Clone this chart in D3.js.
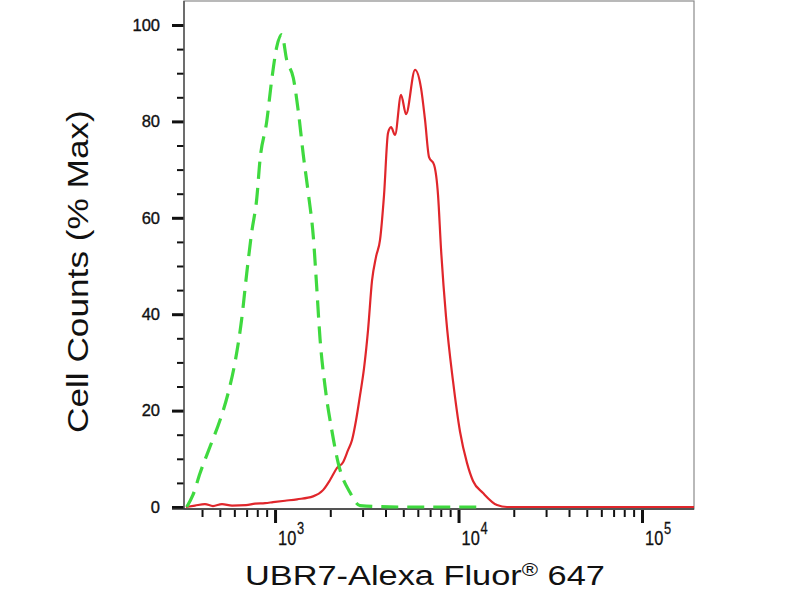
<!DOCTYPE html>
<html>
<head>
<meta charset="utf-8">
<script src="https://cdn.jsdelivr.net/npm/d3@7"></script>
<style>
  html, body { margin: 0; padding: 0; background: #fff; }
  svg { display: block; font-family: "Liberation Sans", Arial, sans-serif; }
</style>
</head>
<body>
<svg id="chart" width="800" height="600"></svg>
<script>
// ---- Data ----
// Isotype control (green dashed): fluorescence intensity and % of max
const controlX = [330, 357, 390, 442, 501, 554, 605, 658, 701, 746, 795, 828, 901, 959, 1021, 1088, 1158, 1258, 1340, 1426, 1519, 1617, 1687, 1758, 1873, 2037, 2213, 2563, 2905, 4800, 13100];
const controlY = [0, 2.5, 7, 12.5, 18, 23.5, 30, 39, 48.5, 57, 64, 72, 80, 88.6, 95.4, 98, 92.7, 89, 82, 73, 65, 56, 45.6, 35, 25, 16, 9, 3, 0.3, 0, 0];
// UBR7 stained sample (red solid)
const sampleX = [327, 366, 415, 459, 514, 583, 695, 778, 882, 975, 1134, 1318, 1611, 1826, 1994, 2177, 2348, 2499, 2628, 2764, 2906, 3055, 3212, 3378, 3551, 3734, 3926, 4128, 4288, 4508, 4861, 5175, 5794, 6247, 6568, 6906, 7354, 7732, 8028, 8550, 9333, 10190, 11127, 11995, 13601, 16211, 18377, 192000];
const sampleY = [0, 0.3, 0.6, 0.2, 0.6, 0.3, 0.4, 0.7, 0.8, 1.0, 1.3, 1.6, 2.2, 3.5, 5.6, 8.1, 9.3, 11.8, 13.9, 18.0, 23.2, 28.8, 36.7, 47.0, 51.9, 55.4, 64.7, 77.6, 78.8, 77.2, 85.5, 81.5, 90.7, 86.9, 80.3, 72.6, 71.0, 64.7, 53.5, 39.4, 26.1, 15.6, 9.1, 5.4, 2.9, 0.4, 0, 0];

const xDomain = [319, 192000];
const yDomain = [0, 100];
const xMajorTicks = [1e3, 1e4, 1e5];
const xMinorTicks = [400, 500, 600, 700, 800, 900, 2000, 3000, 4000, 5000, 6000, 7000, 8000, 9000, 20000, 30000, 40000, 50000, 60000, 70000, 80000, 90000];
const xTickExponents = ["3", "4", "5"];
const yMajorTicks = [0, 20, 40, 60, 80, 100];
const yMinorTicks = [5, 10, 15, 25, 30, 35, 45, 50, 55, 65, 70, 75, 85, 90, 95];
const xLabel = "UBR7-Alexa Fluor";
const xLabelSup = "®";
const xLabelTail = " 647";
const yLabel = "Cell Counts (% Max)";

// ---- Layout ----
const L = 184, R = 694, T = 1, B = 509;
const svg = d3.select("#chart");

const x = d3.scaleLog().domain(xDomain).range([L, R]);
const y = d3.scaleLinear().domain(yDomain).range([507, 25]);

// frame
svg.append("rect").attr("x", L).attr("y", T).attr("width", R - L).attr("height", B - T)
  .attr("fill", "none").attr("stroke", "#8a8a8a").attr("stroke-width", 1.2);

// Y axis
const yMajor = svg.append("g").attr("transform", `translate(${L},0)`)
  .call(d3.axisLeft(y).tickValues(yMajorTicks).tickSize(12).tickPadding(12).tickFormat(d3.format("d")));
yMajor.select(".domain").remove();
yMajor.selectAll(".tick line").attr("stroke", "#111").attr("stroke-width", 3);
yMajor.selectAll(".tick text").attr("font-size", 16.5).attr("fill", "#111")
  .attr("stroke", "#111").attr("stroke-width", 0.35)
  .attr("font-family", "Liberation Sans, Arial, sans-serif");
const yMinor = svg.append("g").attr("transform", `translate(${L},0)`)
  .call(d3.axisLeft(y).tickValues(yMinorTicks).tickSize(7).tickFormat(""));
yMinor.select(".domain").remove();
yMinor.selectAll(".tick line").attr("stroke", "#111").attr("stroke-width", 2);

// left axis line
svg.append("line").attr("x1", L).attr("x2", L).attr("y1", T).attr("y2", B)
  .attr("stroke", "#555").attr("stroke-width", 1.5);
// bottom axis line
svg.append("line").attr("x1", 172).attr("x2", R).attr("y1", B).attr("y2", B)
  .attr("stroke", "#333").attr("stroke-width", 1.5);

// X axis
const xMajor = svg.append("g").attr("transform", `translate(0,${B + 1})`)
  .call(d3.axisBottom(x).tickValues(xMajorTicks).tickSize(13).tickFormat(""));
xMajor.select(".domain").remove();
xMajor.selectAll(".tick line").attr("stroke", "#111").attr("stroke-width", 3);
const xMinor = svg.append("g").attr("transform", `translate(0,${B + 1})`)
  .call(d3.axisBottom(x).tickValues(xMinorTicks).tickSize(7).tickFormat(""));
xMinor.select(".domain").remove();
xMinor.selectAll(".tick line").attr("stroke", "#111").attr("stroke-width", 2);

// X tick labels: 10^n as one text element with a superscript tspan
xMajorTicks.forEach((v, i) => {
  const px = x(v) + 3;
  const t = svg.append("text")
    .attr("transform", `translate(${px},545) scale(0.78,1)`)
    .attr("fill", "#111").attr("stroke", "#111").attr("stroke-width", 0.3);
  t.append("tspan").attr("font-size", 21).text("10");
  t.append("tspan").attr("font-size", 16.5).attr("dx", 1).attr("dy", -11).text(xTickExponents[i]);
});

// Lines
const line = d3.line().x(d => x(d[0])).y(d => y(d[1])).curve(d3.curveMonotoneX);
const sample = sampleX.map((v, i) => [v, sampleY[i]]);
const control = controlX.map((v, i) => [v, controlY[i]]);

svg.append("path").datum(sample).attr("d", line)
  .attr("fill", "none").attr("stroke", "#e0262b").attr("stroke-width", 2.2)
  .attr("stroke-linejoin", "round");
svg.append("path").datum(control).attr("d", line)
  .attr("fill", "none").attr("stroke", "#3fd93f").attr("stroke-width", 3.2)
  .attr("stroke-dasharray", "17,9").attr("stroke-linecap", "butt");

// Axis titles (scaled to match reference extents)
const xt = svg.append("text").attr("x", 0).attr("y", 0).attr("font-size", 28).attr("fill", "#111");
xt.append("tspan").text(xLabel);
xt.append("tspan").attr("font-size", 18).attr("dy", -9).text(xLabelSup);
xt.append("tspan").attr("dy", 9).text(xLabelTail);
const xw = xt.node().getBBox().width;
xt.attr("transform", `translate(245,585) scale(${360 / xw},1)`);

const yt = svg.append("text").attr("x", 0).attr("y", 0).attr("font-size", 30)
  .attr("fill", "#111").text(yLabel);
const yw = yt.node().getBBox().width;
yt.attr("transform", `translate(88,433) rotate(-90) scale(${323 / yw},1)`);
</script>
</body>
</html>
